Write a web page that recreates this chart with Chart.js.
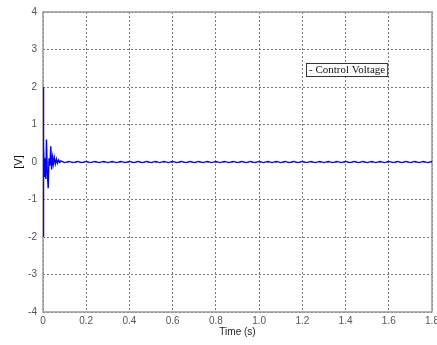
<!DOCTYPE html>
<html>
<head>
<meta charset="utf-8">
<script src="https://cdn.jsdelivr.net/npm/chart.js@4/dist/chart.umd.min.js"></script>
<style>
  html, body { margin: 0; padding: 0; background: #fff; }
  #wrap { width: 437px; height: 345px; }
</style>
</head>
<body>
<div id="wrap"><canvas id="chart" width="437" height="345"></canvas></div>
<script>
// control voltage trace
const transientTimes = [0, 0.001, 0.004, 0.007, 0.010, 0.013, 0.016, 0.020, 0.024, 0.028,
  0.032, 0.036, 0.040, 0.044, 0.048, 0.052, 0.057, 0.062, 0.067, 0.072, 0.077, 0.082];
const transientVolts = [2, -2, 0.4, -0.4, 0.1, -0.45, 0.6, -0.3, -0.7, 0.1,
  -0.1, 0.42, -0.2, 0.12, -0.05, 0.12, -0.05, 0.08, -0.03, 0.05, -0.01, 0.03];

const rippleTimes = [0.10, 0.12, 0.14, 0.16, 0.18, 0.20, 0.22, 0.24, 0.26, 0.28,
  0.30, 0.32, 0.34, 0.36, 0.38, 0.40, 0.42, 0.44, 0.46, 0.48,
  0.50, 0.52, 0.54, 0.56, 0.58, 0.60, 0.62, 0.64, 0.66, 0.68,
  0.70, 0.72, 0.74, 0.76, 0.78, 0.80, 0.82, 0.84, 0.86, 0.88,
  0.90, 0.92, 0.94, 0.96, 0.98, 1.00, 1.02, 1.04, 1.06, 1.08,
  1.10, 1.12, 1.14, 1.16, 1.18, 1.20, 1.22, 1.24, 1.26, 1.28,
  1.30, 1.32, 1.34, 1.36, 1.38, 1.40, 1.42, 1.44, 1.46, 1.48,
  1.50, 1.52, 1.54, 1.56, 1.58, 1.60, 1.62, 1.64, 1.66, 1.68,
  1.70, 1.72, 1.74, 1.76, 1.78, 1.80];
const rippleVolts = [-0.015, 0.015, -0.015, 0.015, -0.015, 0.015, -0.015, 0.015, -0.015, 0.015,
  -0.015, 0.015, -0.015, 0.015, -0.015, 0.015, -0.015, 0.015, -0.015, 0.015,
  -0.015, 0.015, -0.015, 0.015, -0.015, 0.015, -0.015, 0.015, -0.015, 0.015,
  -0.015, 0.015, -0.015, 0.015, -0.015, 0.015, -0.015, 0.015, -0.015, 0.015,
  -0.015, 0.015, -0.015, 0.015, -0.015, 0.015, -0.015, 0.015, -0.015, 0.015,
  -0.015, 0.015, -0.015, 0.015, -0.015, 0.015, -0.015, 0.015, -0.015, 0.015,
  -0.015, 0.015, -0.015, 0.015, -0.015, 0.015, -0.015, 0.015, -0.015, 0.015,
  -0.015, 0.015, -0.015, 0.015, -0.015, 0.015, -0.015, 0.015, -0.015, 0.015,
  -0.015, 0.015, -0.015, 0.015, -0.015, 0.015];

const xTicks = [0, 0.2, 0.4, 0.6, 0.8, 1, 1.2, 1.4, 1.6, 1.8];
const yTicks = [-4, -3, -2, -1, 0, 1, 2, 3, 4];
const seriesName = 'Control Voltage';

const times = transientTimes.concat(rippleTimes);
const volts = transientVolts.concat(rippleVolts);

// grey frame round the plot area (under the trace) + boxed legend inside it
const framePlugin = {
  id: 'frame',
  beforeDatasetsDraw(chart) {
    const { ctx, chartArea: a } = chart;
    ctx.save();
    ctx.strokeStyle = '#9a9a9a';
    ctx.lineWidth = 1.5;
    ctx.strokeRect(a.left, a.top, a.right - a.left, a.bottom - a.top);
    ctx.restore();
  },
  afterDraw(chart) {
    const { ctx } = chart;
    ctx.save();
    ctx.font = '11px "Liberation Serif", "Times New Roman", serif';
    const label = '- ' + seriesName;
    const w = ctx.measureText(label).width;
    const bx = 306, by = 63;
    ctx.fillStyle = '#fff';
    ctx.fillRect(bx, by, w + 5, 13);
    ctx.strokeStyle = '#333';
    ctx.lineWidth = 1;
    ctx.strokeRect(bx + 0.5, by + 0.5, w + 5, 13);
    ctx.fillStyle = '#111';
    ctx.textBaseline = 'middle';
    ctx.fillText(label, bx + 3, by + 7.5);
    ctx.restore();
  }
};

new Chart(document.getElementById('chart'), {
  type: 'line',
  data: {
    datasets: [{
      label: seriesName,
      data: times.map((t, i) => ({ x: t, y: volts[i] })),
      borderColor: '#0000ff',
      borderWidth: 1.4,
      pointRadius: 0,
      tension: 0,
      fill: false
    }]
  },
  options: {
    responsive: false,
    animation: false,
    layout: { padding: { left: 0, right: 5, top: 12, bottom: 7 } },
    plugins: { legend: { display: false }, tooltip: { enabled: false } },
    scales: {
      x: {
        type: 'linear',
        min: 0,
        max: 1.8,
        afterBuildTicks: (s) => { s.ticks = xTicks.map(v => ({ value: v })); },
        afterFit: (s) => { s.height = 26; s.paddingLeft = 0; s.paddingRight = 0; },
        border: { display: false, dash: [2, 2] },
        grid: { color: '#777', lineWidth: 1, drawTicks: false },
        ticks: {
          color: '#555', padding: 3, maxRotation: 0, autoSkip: false,
          font: { family: 'Liberation Sans, Arial, sans-serif', size: 10 }
        },
        title: {
          display: true, text: 'Time (s)', color: '#222',
          font: { family: 'Liberation Sans, Arial, sans-serif', size: 10 },
          padding: { top: 0, bottom: 0 }
        }
      },
      y: {
        min: -4,
        max: 4,
        afterBuildTicks: (s) => { s.ticks = yTicks.map(v => ({ value: v })); },
        afterFit: (s) => { s.width = 43; },
        border: { display: false, dash: [2, 2] },
        grid: { color: '#777', lineWidth: 1, drawTicks: false },
        ticks: {
          color: '#555', padding: 6,
          font: { family: 'Liberation Sans, Arial, sans-serif', size: 10 }
        },
        title: {
          display: true, text: '[V]', color: '#111',
          font: { family: 'Liberation Sans, Arial, sans-serif', size: 11 },
          padding: { top: 12, bottom: 0 }
        }
      }
    }
  },
  plugins: [framePlugin]
});
</script>
</body>
</html>
